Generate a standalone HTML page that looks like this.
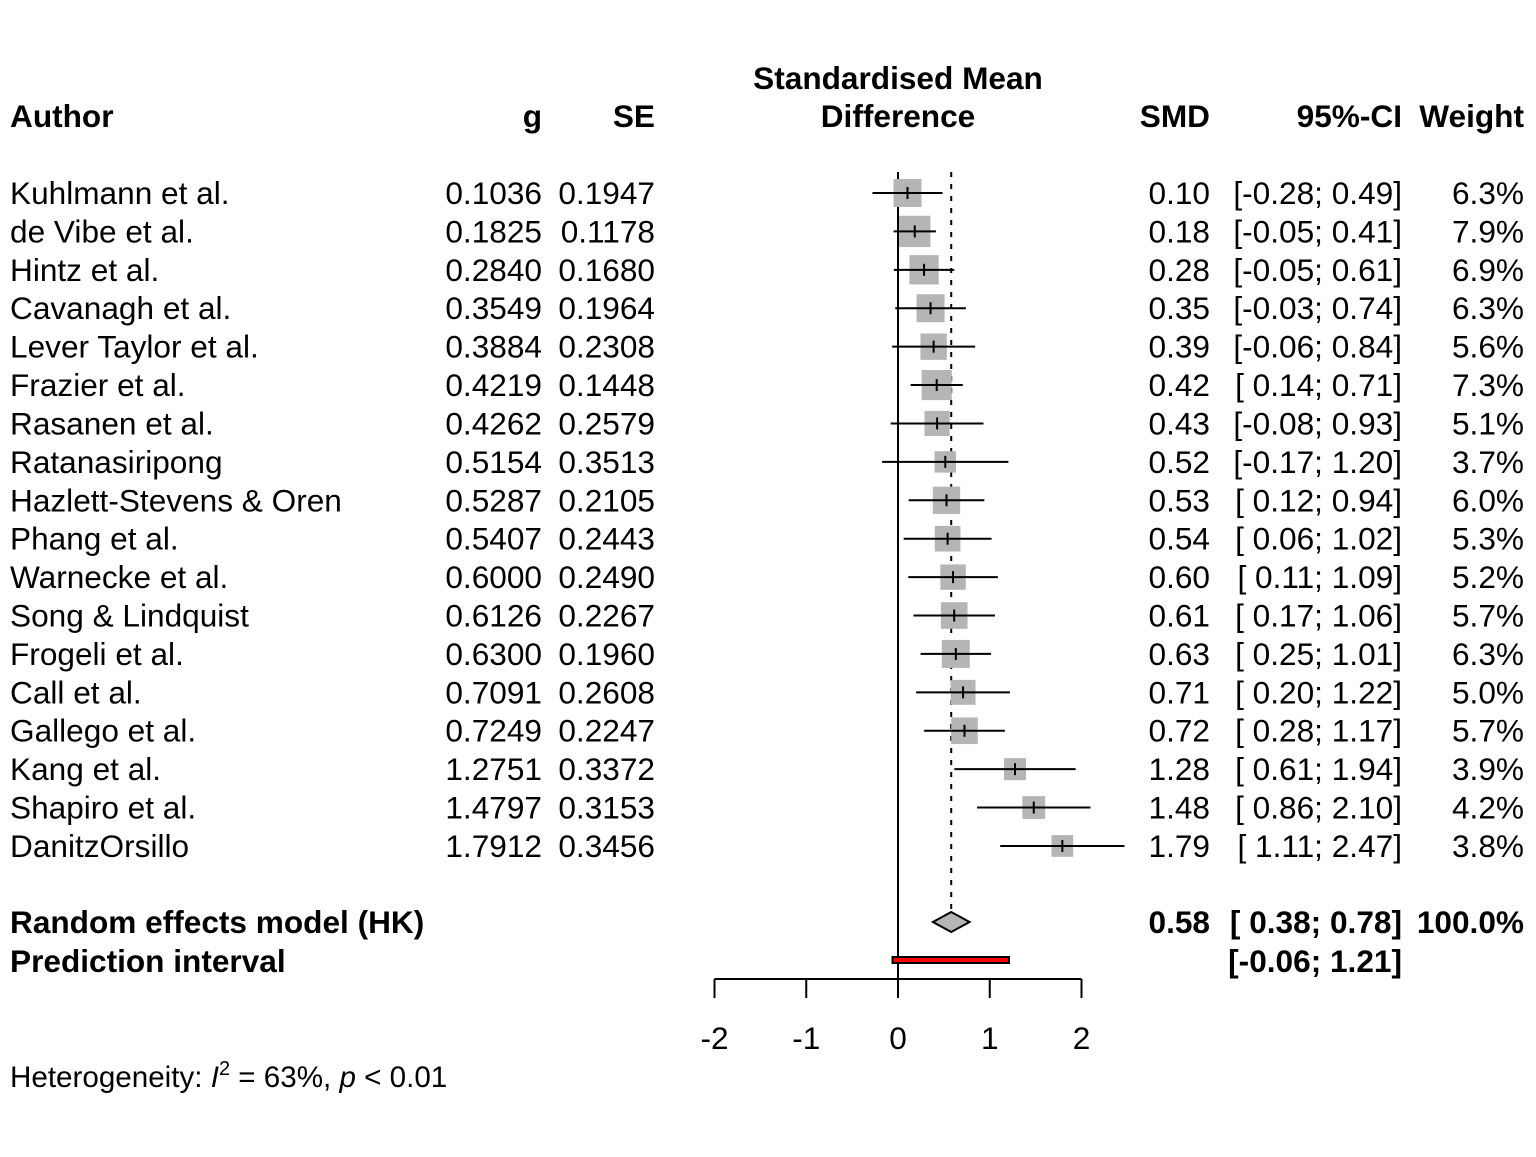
<!DOCTYPE html>
<html><head><meta charset="utf-8"><style>
body{margin:0;background:#fff;}
svg text{font-family:"Liberation Sans",Arial,sans-serif;font-size:31.6px;fill:#000;}
.b{font-weight:bold;}
</style></head><body>
<svg id="plot" width="1536" height="1152" viewBox="0 0 1536 1152" xmlns="http://www.w3.org/2000/svg">
<g>
<text class="b" x="10" y="127">Author</text>
<text class="b" x="542" y="127" text-anchor="end">g</text>
<text class="b" x="655" y="127" text-anchor="end">SE</text>
<text class="b" x="898" y="89" text-anchor="middle">Standardised Mean</text>
<text class="b" x="898" y="127" text-anchor="middle">Difference</text>
<text class="b" x="1210" y="127" text-anchor="end">SMD</text>
<text class="b" x="1402" y="127" text-anchor="end">95%-CI</text>
<text class="b" x="1524" y="127" text-anchor="end">Weight</text>
</g>
<g id="rows"></g>
<g id="marks"></g>
<text class="b" x="10" y="933">Random effects model (HK)</text>
<text class="b" x="10" y="972">Prediction interval</text>
<text class="b" x="1210" y="933" text-anchor="end">0.58</text>
<text class="b" x="1402" y="933" text-anchor="end">[ 0.38; 0.78]</text>
<text class="b" x="1524" y="933" text-anchor="end">100.0%</text>
<text class="b" x="1402" y="972" text-anchor="end">[-0.06; 1.21]</text>
<text x="10" y="1087" style="font-size:29.6px">Heterogeneity: <tspan font-style="italic">I</tspan><tspan dy="-12" style="font-size:20px">2</tspan><tspan dy="12"> = 63%, </tspan><tspan font-style="italic">p</tspan> &lt; 0.01</text>
</svg>
<script>
const authors=["Kuhlmann et al.","de Vibe et al.","Hintz et al.","Cavanagh et al.","Lever Taylor et al.","Frazier et al.","Rasanen et al.","Ratanasiripong","Hazlett-Stevens & Oren","Phang et al.","Warnecke et al.","Song & Lindquist","Frogeli et al.","Call et al.","Gallego et al.","Kang et al.","Shapiro et al.","DanitzOrsillo"];
const gVals=[0.1036,0.1825,0.2840,0.3549,0.3884,0.4219,0.4262,0.5154,0.5287,0.5407,0.6000,0.6126,0.6300,0.7091,0.7249,1.2751,1.4797,1.7912];
const seVals=[0.1947,0.1178,0.1680,0.1964,0.2308,0.1448,0.2579,0.3513,0.2105,0.2443,0.2490,0.2267,0.1960,0.2608,0.2247,0.3372,0.3153,0.3456];
const weights=[6.3,7.9,6.9,6.3,5.6,7.3,5.1,3.7,6.0,5.3,5.2,5.7,6.3,5.0,5.7,3.9,4.2,3.8];
const pooled=[0.58,0.38,0.78];
const predInt=[-0.06,1.21];
const axisTicks=[-2,-1,0,1,2];
const NS="http://www.w3.org/2000/svg";
const X=v=>898+v*91.75;
const rowY=i=>193+i*38.41;
function mk(p,tag,a){const e=document.createElementNS(NS,tag);for(const k in a)e.setAttribute(k,a[k]);p.appendChild(e);return e;}
const rows=document.getElementById('rows'),marks=document.getElementById('marks');
const f2=v=>(v<0?"-":" ")+Math.abs(v).toFixed(2);
let l=mk(marks,'line',{x1:X(0),x2:X(0),y1:172,y2:979,stroke:'#000','stroke-width':2});


l=mk(marks,'line',{x1:X(pooled[0]),x2:X(pooled[0]),y1:172,y2:912,stroke:'#000','stroke-width':2,'stroke-dasharray':'5,7'});


authors.forEach((a,i)=>{
 const y=rowY(i),g=gVals[i],se=seVals[i],lo=g-1.96*se,hi=g+1.96*se;
 const cols=[[a,10,'start'],[g.toFixed(4),542,'end'],[se.toFixed(4),655,'end'],[g.toFixed(2),1210,'end'],["["+f2(lo)+";"+f2(hi)+"]",1402,'end'],[weights[i].toFixed(1)+"%",1524,'end']];
 cols.forEach((c,j)=>{const t=mk(rows,'text',{x:c[1],y:y+11,'text-anchor':c[2]});t.textContent=c[0];
  
  });
 const s=11.15*Math.sqrt(weights[i]);
 const r=mk(marks,'rect',{x:X(g)-s/2,y:y-s/2,width:s,height:s,fill:'#b5b5b5'});
 
 
 const c=mk(marks,'line',{x1:X(lo),x2:X(hi),y1:y,y2:y,stroke:'#000','stroke-width':2});
 
 
 const p=mk(marks,'line',{x1:X(g),x2:X(g),y1:y-6,y2:y+6,stroke:'#000','stroke-width':2});
 
 
});
const d=mk(marks,'polygon',{points:`${X(pooled[1])},922 ${X(pooled[0])},912 ${X(pooled[2])},922 ${X(pooled[0])},932`,fill:'#b5b5b5',stroke:'#000','stroke-width':2});


const pr=mk(marks,'rect',{x:X(predInt[0]),y:957,width:X(predInt[1])-X(predInt[0]),height:6,fill:'#ff0000',stroke:'#000','stroke-width':2});


const ax=mk(marks,'line',{x1:X(axisTicks[0]),x2:X(axisTicks[axisTicks.length-1]),y1:979,y2:979,stroke:'#000','stroke-width':2});


axisTicks.forEach(t=>{
 const k=mk(marks,'line',{x1:X(t),x2:X(t),y1:979,y2:998,stroke:'#000','stroke-width':2});
 
 
 const tl=mk(marks,'text',{x:X(t),y:1049,'text-anchor':'middle'});tl.textContent=t;
 
 
});
</script>
</body></html>
